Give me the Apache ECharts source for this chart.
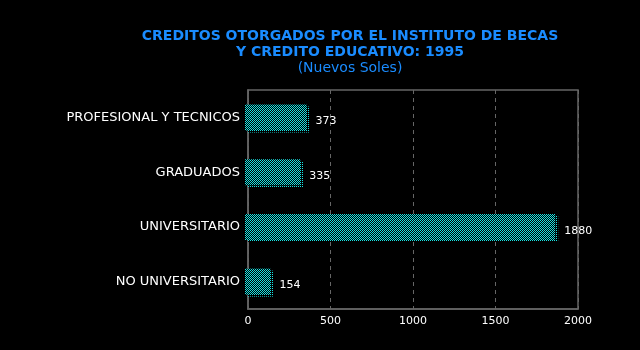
<!DOCTYPE html>
<html>
<head>
<meta charset="utf-8">
<script src="https://cdn.jsdelivr.net/npm/echarts@6/dist/echarts.min.js"></script>
<style>
  html, body { margin: 0; padding: 0; background: #000; }
  #chart { width: 640px; height: 350px; }
</style>
</head>
<body>
<div id="chart"></div>
<script>
// Credits granted by the scholarship institute, 1995 (Nuevos Soles)
const categories = ['PROFESIONAL Y TECNICOS', 'GRADUADOS', 'UNIVERSITARIO', 'NO UNIVERSITARIO'];
const creditValues = [373, 335, 1880, 154];
const xTicks = [0, 500, 1000, 1500, 2000];

// 1px cyan/black checkerboard used for the bar face
function checkerPattern() {
  const c = document.createElement('canvas');
  c.width = 2; c.height = 2;
  const g = c.getContext('2d');
  g.fillStyle = '#000'; g.fillRect(0, 0, 2, 2);
  g.fillStyle = '#19e3e3';
  g.fillRect(0, 0, 1, 1); g.fillRect(1, 1, 1, 1);
  return c;
}
// sparse dots used for the bar's 3D edge
function dotPattern() {
  const c = document.createElement('canvas');
  c.width = 2; c.height = 2;
  const g = c.getContext('2d');
  g.fillStyle = '#000'; g.fillRect(0, 0, 2, 2);
  g.fillStyle = '#19e3e3';
  g.fillRect(0, 0, 1, 1);
  return c;
}
const faceFill = { image: checkerPattern(), repeat: 'repeat' };
const edgeFill = { image: dotPattern(), repeat: 'repeat' };

const chart = echarts.init(document.getElementById('chart'), null, { renderer: 'canvas' });
const font = '"DejaVu Sans", Verdana, sans-serif';

chart.setOption({
  backgroundColor: '#000',
  animation: false,
  title: {
    text: 'CREDITOS OTORGADOS POR EL INSTITUTO DE BECAS\nY CREDITO EDUCATIVO: 1995',
    subtext: '(Nuevos Soles)',
    left: 345,
    textAlign: 'center',
    top: 23,
    itemGap: 1,
    textStyle: { color: '#1a8cff', fontSize: 14, fontWeight: 'bold', fontFamily: font, lineHeight: 16 },
    subtextStyle: { color: '#1a8cff', fontSize: 14, fontFamily: font }
  },
  grid: { left: 248, right: 62, top: 90, bottom: 41, show: true, borderColor: '#666', borderWidth: 1.5 },
  xAxis: {
    type: 'value',
    min: xTicks[0],
    max: xTicks[xTicks.length - 1],
    interval: 500,
    axisLine: { show: true, lineStyle: { color: '#666', width: 1.5 } },
    axisTick: { show: false },
    axisLabel: { color: '#fff', fontSize: 11, fontFamily: font, margin: 7, formatter: v => String(v) },
    splitLine: { show: true, lineStyle: { color: '#666', type: [4, 4], width: 1 } }
  },
  yAxis: {
    type: 'category',
    data: categories,
    inverse: true,
    axisLine: { show: true, lineStyle: { color: '#666', width: 1.5 } },
    axisTick: { show: false },
    axisLabel: { color: '#fff', fontSize: 13, fontFamily: font, margin: 8 }
  },
  series: [{
    type: 'custom',
    data: creditValues.map((v, i) => [v, i]),
    encode: { x: 0, y: 1 },
    renderItem: function (params, api) {
      const v = api.value(0);
      const p0 = api.coord([0, api.value(1)]);
      const p1 = api.coord([v, api.value(1)]);
      const h = 26, dx = 3, dy = 2;
      const top = p0[1] - h / 2;
      return {
        type: 'group',
        children: [
          { type: 'rect', shape: { x: p0[0], y: top + dy, width: p1[0] - p0[0], height: h }, style: { fill: edgeFill } },
          { type: 'rect', shape: { x: p0[0] - dx, y: top, width: p1[0] - p0[0], height: h }, style: { fill: faceFill } },
          { type: 'text', x: p1[0] + 6, y: p0[1] + 4,
            style: { text: String(v), fill: '#fff', font: '11px ' + font, verticalAlign: 'middle', align: 'left' } }
        ]
      };
    }
  }]
});
</script>
</body>
</html>
